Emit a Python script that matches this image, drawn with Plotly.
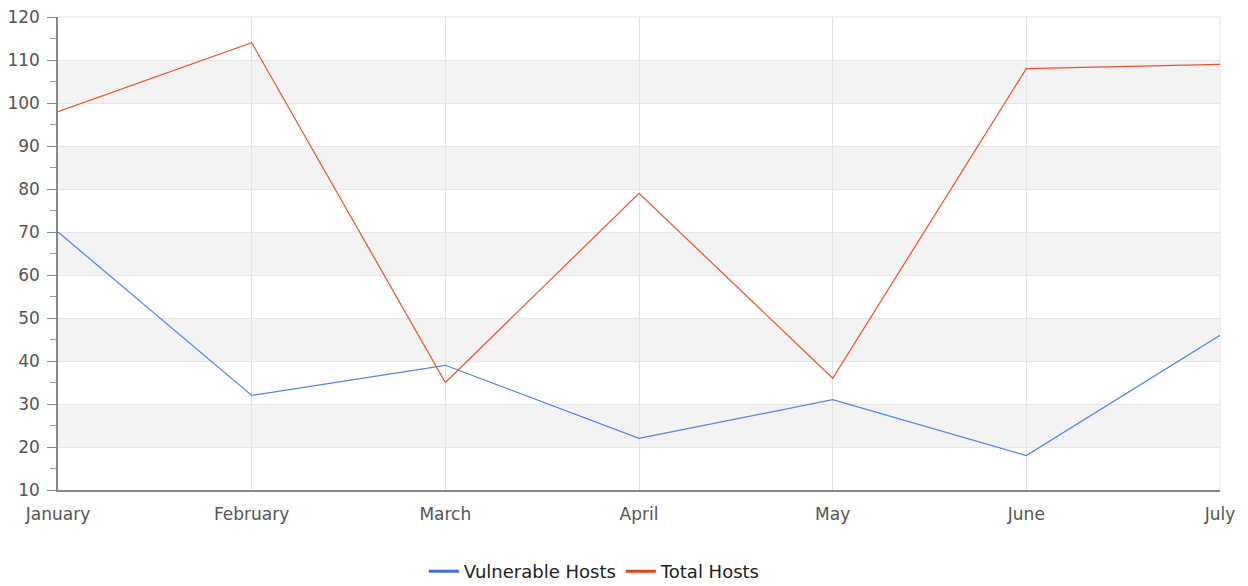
import plotly.graph_objects as go

months = ["January", "February", "March", "April", "May", "June", "July"]
vulnerable = [70, 32, 39, 22, 31, 18, 46]
total = [98, 114, 35, 79, 36, 108, 109]
band_starts = [20, 40, 60, 80, 100]
band_size = 10
y_min, y_max = 10, 120

xs = list(range(len(months)))

fig = go.Figure()
fig.add_trace(go.Scatter(x=xs, y=vulnerable, mode="lines", name="Vulnerable Hosts",
                         line=dict(color="#5583e2", width=1.2), showlegend=False))
fig.add_trace(go.Scatter(x=xs, y=total, mode="lines", name="Total Hosts",
                         line=dict(color="#ea5433", width=1.2), showlegend=False))
# legend entries with thicker sample lines
fig.add_trace(go.Scatter(x=[None], y=[None], mode="lines", name="Vulnerable Hosts",
                         line=dict(color="#3d6fd9", width=3)))
fig.add_trace(go.Scatter(x=[None], y=[None], mode="lines", name="Total Hosts",
                         line=dict(color="#e2421c", width=3)))

for b in band_starts:
    fig.add_shape(type="rect", xref="x", yref="y", x0=xs[0], x1=xs[-1], y0=b, y1=b + band_size,
                  fillcolor="#f3f3f3", line_width=0, layer="below")

# page body has an 8px margin, so the figure is sized/offset accordingly
fig.update_layout(
    width=1240, height=578,
    margin=dict(l=50, r=28, t=9, b=96, autoexpand=False),
    paper_bgcolor="white", plot_bgcolor="white",
    font=dict(family="DejaVu Sans", size=17, color="#555"),
    showlegend=True,
    legend=dict(orientation="h", x=0.462, xanchor="center", yref="container",
                y=0.025, yanchor="middle",
                font=dict(size=18, color="#222"), itemwidth=30),
)
fig.update_xaxes(
    range=[xs[0], xs[-1]], tickmode="array", tickvals=xs, ticktext=months,
    showgrid=True, gridcolor="#e3e3e3", gridwidth=1,
    showline=True, linecolor="#888", linewidth=1.5, mirror=False,
    ticks="", zeroline=False, ticklabelstandoff=8, automargin=False,
    ticklabeloverflow="allow",
)
fig.update_yaxes(
    range=[y_min, y_max], tick0=10, dtick=10,
    showgrid=True, gridcolor="#e6e6e6", gridwidth=1,
    showline=True, linecolor="#888", linewidth=1.5,
    ticks="outside", ticklen=9, tickcolor="#888", tickwidth=1,
    minor=dict(ticks="outside", ticklen=6, dtick=5, tickcolor="#999", showgrid=False),
    zeroline=False, automargin=False, ticklabelstandoff=4,
    ticklabeloverflow="allow",
)
# top and right border
fig.add_shape(type="line", xref="paper", yref="paper", x0=0, x1=1, y0=1, y1=1,
              line=dict(color="#e3e3e3", width=1), layer="below")
fig.add_shape(type="line", xref="paper", yref="paper", x0=1, x1=1, y0=0, y1=1,
              line=dict(color="#e3e3e3", width=1), layer="below")

fig.write_html("out.html")
